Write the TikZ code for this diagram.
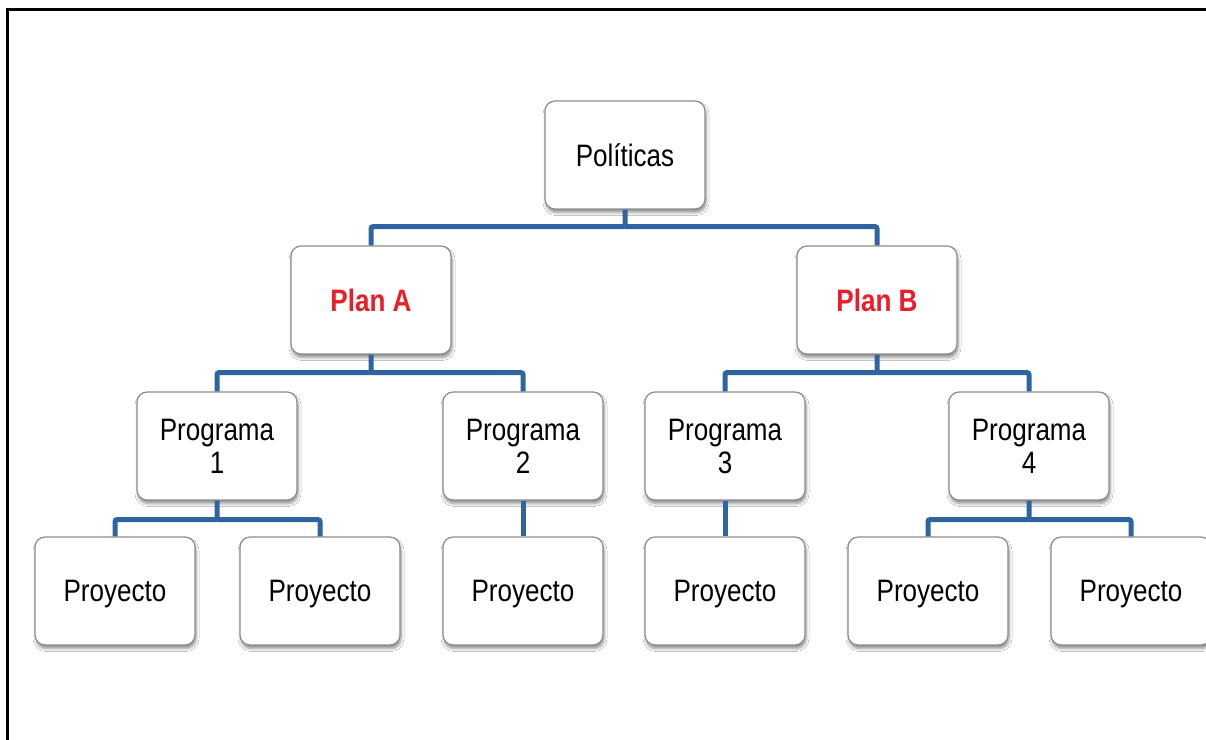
\documentclass[tikz,border=0pt]{standalone}
\usepackage{fontspec}
\setmainfont{Liberation Sans}
\newfontfamily\boxfont[FakeStretch=0.84]{Liberation Sans}
\usetikzlibrary{shadows.blur}
\definecolor{busblue}{RGB}{46,101,161}
\definecolor{planred}{RGB}{234,30,40}
\definecolor{boxline}{RGB}{140,140,140}
\tikzset{
  orgbox/.style={draw=boxline, line width=1.2pt, fill=white, rounded corners=10pt,
    minimum width=160pt, minimum height=108pt, align=center,
    font=\boxfont\fontsize{31}{33}\selectfont,
    blur shadow={shadow xshift=1pt, shadow yshift=-3.5pt, shadow blur radius=3pt,
      shadow blur steps=6, shadow opacity=45}},
  leafbox/.style={orgbox, text depth=0pt},
  planbox/.style={orgbox, text=planred, font=\boxfont\bfseries\fontsize{31}{33}\selectfont},
  bus/.style={draw=busblue, line width=5pt, rounded corners=2pt},
  frame/.style={draw=black, line width=3pt}
}
\begin{document}
\begin{tikzpicture}[x=1pt, y=-1pt]
  \clip (0,0) rectangle (1206,739);
  \fill[white] (0,0) rectangle (1206,739);
  % outer frame, running off the right and bottom edges
  \draw[frame] (7.5,9) rectangle (1230,760);

  % boxes
  \node[orgbox]  (pol) at (625,155) {Políticas};
  \node[planbox] (pa)  at (371,300) {Plan A};
  \node[planbox] (pb)  at (877,300) {Plan B};
  \node[orgbox]  (g1)  at (217,446) {Programa\\1};
  \node[orgbox]  (g2)  at (523,446) {Programa\\2};
  \node[orgbox]  (g3)  at (725,446) {Programa\\3};
  \node[orgbox]  (g4)  at (1029,446) {Programa\\4};
  \node[leafbox] (y1)  at (115,591) {Proyecto};
  \node[leafbox] (y2)  at (320,591) {Proyecto};
  \node[leafbox] (y3)  at (523,591) {Proyecto};
  \node[leafbox] (y4)  at (725,591) {Proyecto};
  \node[leafbox] (y5)  at (928,591) {Proyecto};
  \node[leafbox] (y6)  at (1131,591) {Proyecto};

  % connectors
  \draw[bus] (pol.south) -- ++(0,17) coordinate (b0) -| (pa.north);
  \draw[bus] (b0) -| (pb.north);
  \draw[bus] (pa.south) -- ++(0,18) coordinate (b1) -| (g1.north);
  \draw[bus] (b1) -| (g2.north);
  \draw[bus] (pb.south) -- ++(0,18) coordinate (b2) -| (g3.north);
  \draw[bus] (b2) -| (g4.north);
  \draw[bus] (g1.south) -- ++(0,19) coordinate (b3) -| (y1.north);
  \draw[bus] (b3) -| (y2.north);
  \draw[bus] (g2.south) -- (y3.north);
  \draw[bus] (g3.south) -- (y4.north);
  \draw[bus] (g4.south) -- ++(0,19) coordinate (b4) -| (y5.north);
  \draw[bus] (b4) -| (y6.north);
\end{tikzpicture}
\end{document}
